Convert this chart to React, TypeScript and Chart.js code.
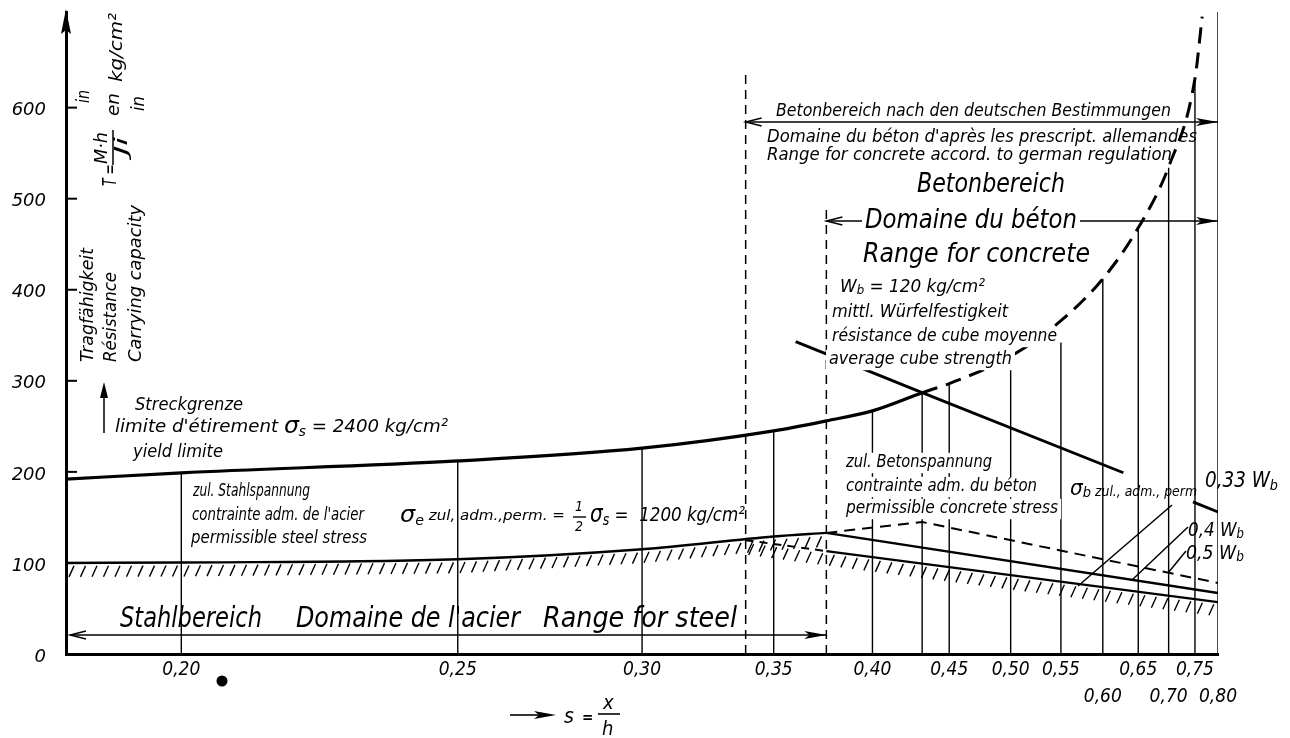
import React, { useEffect, useRef } from 'react';
import { Chart, registerables } from 'chart.js';

Chart.register(...registerables);

const FONT = "'DejaVu Sans Condensed', 'Liberation Sans Narrow', 'DejaVu Sans', sans-serif";
const NUM_FONT = "'DejaVu Sans', sans-serif";

// ---------- axes ----------
const tickS = [0.2, 0.25, 0.3, 0.35, 0.4, 0.45, 0.5, 0.55, 0.6, 0.65, 0.7, 0.75, 0.8];
const tickLabels = ['0,20', '0,25', '0,30', '0,35', '0,40', '0,45', '0,50', '0,55', '0,60', '0,65', '0,70', '0,75', '0,80'];
const lowTickLabels = ['0,60', '0,70', '0,80'];
const yTicks = [0, 100, 200, 300, 400, 500, 600];
const axisS = [0.1846, 0.8];
const yMax = 705;

// ---------- carrying capacity at yield limit (sigma_s = 2400) ----------
const yieldS = [0.1846, 0.2, 0.25, 0.3, 0.35, 0.375, 0.4, 0.431];
const yieldT = [192, 199, 212, 226, 245, 256, 267, 287];
const yieldDashS = [0.431, 0.45, 0.5, 0.55, 0.6, 0.65, 0.7, 0.75, 0.765];
const yieldDashT = [287, 297, 327, 366, 412, 468, 535, 632, 700];

// ---------- concrete capacity (Wb = 120) ----------
const concreteS = [0.36, 0.431, 0.628];
const concreteT = [343, 287, 199];
const concreteEndS = [0.746, 0.8];
const concreteEndT = [167, 156];

// ---------- permissible stresses ----------
const steelS = [0.1846, 0.2, 0.25, 0.3, 0.35, 0.375];
const steelT = [100, 100.5, 104, 115, 129, 133];
const wb05S = [0.375, 0.431, 0.8];
const wb05T = [133, 145, 78];
const wb04S = [0.375, 0.8];
const wb04T = [133, 67];
const wb033S = [0.375, 0.8];
const wb033T = [113, 57];
const wb033DashS = [0.338, 0.375];
const wb033DashT = [125, 113];

// ---------- vertical ordinates ----------
const gridS = [0.2, 0.25, 0.3, 0.35, 0.4, 0.431, 0.45, 0.5, 0.55, 0.6, 0.65, 0.7, 0.75, 0.8];
const gridTopT = [199, 212, 226, 245, 267, 287, 297, 318, 342, 412, 466, 534, 628, 705];
const dashedGridS = [0.338, 0.375];
const dashedGridTopT = [636, 488];

// ---------- ranges (s from .. to) ----------
const germanRangeS = [0.338, 0.8];
const concreteRangeS = [0.375, 0.8];
const steelRangeS = [0.1846, 0.375];

const pts = (S: number[], T: number[]) => S.map((s, i) => ({ x: 1 / s, y: T[i] }));

type Run = { t: string; k?: number; dy?: number };
type Label = { x: number; y: number; size: number; w?: number; runs: Run[] | string; bg?: boolean };

const labels: Label[] = [
  { x: 776, y: 112, size: 17, w: 395, runs: 'Betonbereich nach den deutschen Bestimmungen' },
  { x: 767, y: 138, size: 17, w: 430, runs: "Domaine du béton d'après les prescript. allemandes" },
  { x: 767, y: 156, size: 17, w: 405, runs: 'Range for concrete accord. to german regulation' },
  { x: 917, y: 185, size: 26, w: 148, runs: 'Betonbereich' },
  { x: 865, y: 221, size: 26, w: 212, runs: 'Domaine du béton', bg: true },
  { x: 863, y: 255, size: 26, w: 227, runs: 'Range for concrete' },
  { x: 840, y: 287, size: 18, w: 145, runs: [{ t: 'W' }, { t: 'b', k: 0.7, dy: 4 }, { t: ' = 120 kg/cm²' }] },
  { x: 832, y: 313, size: 17, w: 176, runs: 'mittl. Würfelfestigkeit', bg: true },
  { x: 832, y: 337, size: 17, w: 225, runs: 'résistance de cube moyenne', bg: true },
  { x: 829, y: 360, size: 17, w: 183, runs: 'average cube strength', bg: true },
  { x: 846, y: 463, size: 17, w: 146, runs: 'zul. Betonspannung', bg: true },
  { x: 846, y: 487, size: 17, w: 191, runs: 'contrainte adm. du béton', bg: true },
  { x: 846, y: 509, size: 17, w: 212, runs: 'permissible concrete stress', bg: true },
  { x: 1070, y: 489, size: 22, w: 127, runs: [{ t: 'σ' }, { t: 'b', k: 0.65, dy: 4 }, { t: ' zul., adm., perm', k: 0.62, dy: 3 }] },
  { x: 1205, y: 482, size: 21, w: 73, runs: [{ t: '0,33 W' }, { t: 'b', k: 0.7, dy: 4 }] },
  { x: 1188, y: 531, size: 19, w: 56, runs: [{ t: '0,4 W' }, { t: 'b', k: 0.7, dy: 4 }] },
  { x: 1186, y: 554, size: 19, w: 58, runs: [{ t: '0,5 W' }, { t: 'b', k: 0.7, dy: 4 }] },
  { x: 135, y: 405, size: 18, w: 108, runs: 'Streckgrenze' },
  { x: 115, y: 427, size: 18, w: 333, runs: [{ t: "limite d'étirement " }, { t: 'σ', k: 1.3 }, { t: 's', k: 0.75, dy: 5 }, { t: ' = 2400 kg/cm²' }] },
  { x: 133, y: 452, size: 18, w: 90, runs: 'yield limite' },
  { x: 193, y: 492, size: 17, w: 117, runs: 'zul. Stahlspannung' },
  { x: 192, y: 516, size: 17, w: 172, runs: "contrainte adm. de l'acier" },
  { x: 191, y: 539, size: 17, w: 176, runs: 'permissible steel stress' },
  { x: 400, y: 516, size: 17, w: 165, runs: [{ t: 'σ', k: 1.35 }, { t: 'e', k: 0.8, dy: 5 }, { t: ' zul, adm.,perm. =', k: 0.85 }] },
  { x: 590, y: 516, size: 20, w: 155, runs: [{ t: 'σ', k: 1.2 }, { t: 's', k: 0.75, dy: 5 }, { t: ' =  1200 kg/cm²' }] },
  { x: 120, y: 620, size: 28, w: 142, runs: 'Stahlbereich' },
  { x: 296, y: 620, size: 28, w: 224, runs: "Domaine de l'acier" },
  { x: 543, y: 620, size: 28, w: 194, runs: 'Range for steel' },
];

type RLabel = { cx: number; yb: number; size: number; len: number; text: string };
const rotLabels: RLabel[] = [
  { cx: 89, yb: 362, size: 17, len: 114, text: 'Tragfähigkeit' },
  { cx: 112, yb: 362, size: 17, len: 90, text: 'Résistance' },
  { cx: 137, yb: 362, size: 17, len: 157, text: 'Carrying capacity' },
  { cx: 111, yb: 186, size: 19, len: 22, text: 'T =' },
  { cx: 103, yb: 164, size: 17, len: 32, text: 'M·h' },
  { cx: 123, yb: 155, size: 17, len: 18, text: 'Ji' },
  { cx: 85, yb: 103, size: 17, len: 13, text: 'in' },
  { cx: 114, yb: 116, size: 18, len: 23, text: 'en' },
  { cx: 117, yb: 82, size: 18, len: 69, text: 'kg/cm²' },
  { cx: 140, yb: 111, size: 17, len: 15, text: 'in' },
];

function drawLabelText(ctx: CanvasRenderingContext2D, L: Label, pass: 'bg' | 'fg') {
  const runs: Run[] = typeof L.runs === 'string' ? [{ t: L.runs }] : L.runs;
  ctx.save();
  ctx.textBaseline = 'middle';
  ctx.textAlign = 'left';
  let total = 0;
  const widths = runs.map((r) => {
    ctx.font = `italic ${L.size * (r.k ?? 1)}px ${FONT}`;
    const w = ctx.measureText(r.t).width;
    total += w;
    return w;
  });
  const k = L.w ? L.w / total : 1;
  if (pass === 'bg') {
    if (L.bg) {
      ctx.fillStyle = '#fff';
      ctx.fillRect(L.x - 3, L.y - L.size * 0.6, total * k + 6, L.size * 1.2);
    }
    ctx.restore();
    return;
  }
  ctx.fillStyle = '#000';
  ctx.translate(L.x, L.y);
  ctx.scale(k, 1);
  let cx = 0;
  runs.forEach((r, i) => {
    ctx.font = `italic ${L.size * (r.k ?? 1)}px ${FONT}`;
    ctx.fillText(r.t, cx, r.dy ?? 0);
    cx += widths[i];
  });
  ctx.restore();
}

function drawRot(ctx: CanvasRenderingContext2D, R: RLabel) {
  ctx.save();
  ctx.font = `italic ${R.size}px ${FONT}`;
  ctx.textBaseline = 'middle';
  ctx.textAlign = 'left';
  ctx.fillStyle = '#000';
  const w = ctx.measureText(R.text).width;
  ctx.translate(R.cx, R.yb);
  ctx.rotate(-Math.PI / 2);
  ctx.scale(R.len / w, 1);
  ctx.fillText(R.text, 0, 0);
  ctx.restore();
}

function line(ctx: CanvasRenderingContext2D, x1: number, y1: number, x2: number, y2: number, w = 1.4, dash: number[] = []) {
  ctx.save();
  ctx.strokeStyle = '#000';
  ctx.lineWidth = w;
  ctx.setLineDash(dash);
  ctx.beginPath();
  ctx.moveTo(x1, y1);
  ctx.lineTo(x2, y2);
  ctx.stroke();
  ctx.restore();
}

function headLeftOpen(ctx: CanvasRenderingContext2D, x: number, y: number) {
  ctx.save();
  ctx.strokeStyle = '#000';
  ctx.lineWidth = 1.4;
  ctx.beginPath();
  ctx.moveTo(x + 16, y - 4);
  ctx.lineTo(x, y);
  ctx.lineTo(x + 16, y + 4);
  ctx.stroke();
  ctx.restore();
}

function headRightFilled(ctx: CanvasRenderingContext2D, x: number, y: number) {
  ctx.save();
  ctx.fillStyle = '#000';
  ctx.beginPath();
  ctx.moveTo(x, y);
  ctx.lineTo(x - 22, y - 4);
  ctx.lineTo(x - 17, y);
  ctx.lineTo(x - 22, y + 4);
  ctx.closePath();
  ctx.fill();
  ctx.restore();
}

const annotations = {
  id: 'annotations',
  afterDatasetsDraw(chart: any) {
    const ctx: CanvasRenderingContext2D = chart.ctx;
    const xs = chart.scales.x;
    const ys = chart.scales.y;
    const px = (s: number) => xs.getPixelForValue(1 / s);
    const py = (T: number) => ys.getPixelForValue(T);
    const area = chart.chartArea;

    // hatching below marked lines
    chart.data.datasets.forEach((ds: any, i: number) => {
      if (!ds.hatch) return;
      const meta = chart.getDatasetMeta(i);
      const p = meta.data.map((e: any) => ({ x: e.x, y: e.y }));
      ctx.save();
      ctx.strokeStyle = '#000';
      ctx.lineWidth = 1.4;
      ctx.beginPath();
      for (let x = p[0].x + 6; x < p[p.length - 1].x - 2; x += 11.5) {
        let j = 0;
        while (j < p.length - 2 && p[j + 1].x < x) j++;
        const t = (x - p[j].x) / (p[j + 1].x - p[j].x);
        const y = p[j].y + t * (p[j + 1].y - p[j].y);
        ctx.moveTo(x + 2, y + 3);
        ctx.lineTo(x - 3, y + 14);
      }
      ctx.stroke();
      ctx.restore();
    });

    // y axis arrow and inner ticks
    ctx.save();
    ctx.fillStyle = '#000';
    ctx.beginPath();
    ctx.moveTo(area.left, area.top - 3);
    ctx.lineTo(area.left - 5, area.top + 22);
    ctx.lineTo(area.left, area.top + 18);
    ctx.lineTo(area.left + 5, area.top + 22);
    ctx.closePath();
    ctx.fill();
    ctx.restore();
    yTicks.slice(1).forEach((v) => line(ctx, area.left, py(v), area.left + 11, py(v), 2));

    // dashed vertical ordinates
    dashedGridS.forEach((s, i) => line(ctx, px(s), py(0), px(s), py(dashedGridTopT[i]), 1.5, [9, 6]));

    // range arrows
    const gy = 122;
    line(ctx, px(germanRangeS[0]), gy, px(germanRangeS[1]), gy, 1.3);
    headLeftOpen(ctx, px(germanRangeS[0]), gy);
    headRightFilled(ctx, px(germanRangeS[1]), gy);
    const cy = 221;
    line(ctx, px(concreteRangeS[0]), cy, px(concreteRangeS[1]), cy, 1.3);
    headLeftOpen(ctx, px(concreteRangeS[0]), cy);
    headRightFilled(ctx, px(concreteRangeS[1]), cy);
    const sy = 635;
    line(ctx, px(steelRangeS[0]) + 4, sy, px(steelRangeS[1]), sy, 1.3);
    headLeftOpen(ctx, px(steelRangeS[0]) + 4, sy);
    headRightFilled(ctx, px(steelRangeS[1]), sy);

    // leaders
    line(ctx, 1172, 505, 1078, 586, 1.5);
    line(ctx, 1188, 527, 1132, 580, 1.5);
    line(ctx, 1186, 551, 1168, 573, 1.5);

    // small arrow at Streckgrenze
    line(ctx, 104, 433, 104, 392, 1.5);
    ctx.save();
    ctx.fillStyle = '#000';
    ctx.beginPath();
    ctx.moveTo(104, 382);
    ctx.lineTo(100, 398);
    ctx.lineTo(108, 398);
    ctx.closePath();
    ctx.fill();
    ctx.restore();

    // texts
    labels.forEach((L) => drawLabelText(ctx, L, 'bg'));
    labels.forEach((L) => drawLabelText(ctx, L, 'fg'));
    rotLabels.forEach((R) => drawRot(ctx, R));
    // fraction bar of T = M·h / Ji
    line(ctx, 113, 130, 113, 165, 1.5);

    // 1/2 fraction
    ctx.save();
    ctx.fillStyle = '#000';
    ctx.font = `italic 14px ${FONT}`;
    ctx.textAlign = 'center';
    ctx.textBaseline = 'middle';
    ctx.fillText('1', 579, 507);
    ctx.fillText('2', 579, 527);
    ctx.restore();
    line(ctx, 573, 517, 586, 517, 1.4);

    // x axis title  ->  s = x / h
    line(ctx, 510, 715, 540, 715, 1.6);
    headRightFilled(ctx, 556, 715);
    ctx.save();
    ctx.fillStyle = '#000';
    ctx.textBaseline = 'middle';
    ctx.textAlign = 'left';
    ctx.font = `italic 21px ${FONT}`;
    ctx.fillText('s', 564, 718);
    ctx.font = `bold 15px ${FONT}`;
    ctx.fillText('=', 582, 718);
    ctx.font = `italic 20px ${FONT}`;
    ctx.fillText('x', 603, 704);
    ctx.fillText('h', 602, 730);
    ctx.restore();
    line(ctx, 598, 714, 620, 714, 1.6);

    // scan dot
    ctx.save();
    ctx.fillStyle = '#000';
    ctx.beginPath();
    ctx.arc(222, 681, 5.5, 0, Math.PI * 2);
    ctx.fill();
    ctx.restore();
  },
};

export default function App() {
  const ref = useRef<HTMLCanvasElement | null>(null);
  useEffect(() => {
    if (!ref.current) return;
    const base = { borderColor: '#000', pointRadius: 0, fill: false };
    const datasets: any[] = [
      { ...base, data: pts(yieldS, yieldT), borderWidth: 3.2, cubicInterpolationMode: 'monotone' },
      { ...base, data: pts(yieldDashS, yieldDashT), borderWidth: 3, borderDash: [16, 9], cubicInterpolationMode: 'monotone' },
      { ...base, data: pts(concreteS, concreteT), borderWidth: 2.8 },
      { ...base, data: pts(concreteEndS, concreteEndT), borderWidth: 2.8 },
      { ...base, data: pts(steelS, steelT), borderWidth: 2.4, cubicInterpolationMode: 'monotone', hatch: true },
      { ...base, data: pts(wb05S, wb05T), borderWidth: 2, borderDash: [11, 7] },
      { ...base, data: pts(wb04S, wb04T), borderWidth: 2.4 },
      { ...base, data: pts(wb033S, wb033T), borderWidth: 2.4, hatch: true },
      { ...base, data: pts(wb033DashS, wb033DashT), borderWidth: 2, borderDash: [8, 6], hatch: true },
      ...gridS.map((s, i) => ({ ...base, data: [{ x: 1 / s, y: 0 }, { x: 1 / s, y: gridTopT[i] }], borderWidth: 1.4 })),
    ];
    const labelFor = (v: number) => {
      const i = tickS.findIndex((s) => Math.abs(1 / s - v) < 1e-6);
      if (i < 0) return '';
      const l = tickLabels[i];
      return lowTickLabels.includes(l) ? ['', l] : l;
    };
    const chart = new Chart(ref.current, {
      type: 'line',
      data: { datasets },
      options: {
        animation: false,
        responsive: false,
        maintainAspectRatio: false,
        devicePixelRatio: 1,
        layout: { padding: { left: 0, right: 72, top: 12, bottom: 0 } },
        plugins: { legend: { display: false }, tooltip: { enabled: false } },
        scales: {
          x: {
            type: 'linear',
            reverse: true,
            min: 1 / axisS[1],
            max: 1 / axisS[0],
            grid: { display: false, drawTicks: false, tickLength: 0 },
            border: { display: true, width: 3, color: '#000' },
            afterBuildTicks: (sc: any) => {
              sc.ticks = tickS.map((s) => ({ value: 1 / s }));
            },
            afterFit: (sc: any) => {
              sc.height = 84;
              sc.paddingLeft = 0;
              sc.paddingRight = 0;
            },
            ticks: {
              autoSkip: false,
              maxRotation: 0,
              minRotation: 0,
              padding: 3,
              color: '#000',
              font: { family: FONT, size: 19, style: 'italic', lineHeight: 1.4 },
              callback: (v: any) => labelFor(Number(v)),
            },
          },
          y: {
            type: 'linear',
            min: 0,
            max: yMax,
            grid: { display: false, drawTicks: false, tickLength: 0 },
            border: { display: true, width: 3, color: '#000' },
            afterBuildTicks: (sc: any) => {
              sc.ticks = yTicks.map((v) => ({ value: v }));
            },
            afterFit: (sc: any) => {
              sc.width = 66;
              sc.paddingTop = 0;
              sc.paddingBottom = 0;
            },
            ticks: {
              padding: 20,
              labelOffset: 3,
              color: '#000',
              font: { family: NUM_FONT, size: 18, style: 'italic' },
            },
          },
        },
      } as any,
      plugins: [annotations],
    });
    return () => chart.destroy();
  }, []);
  return (
    <div style={{ position: 'fixed', left: 0, top: 0, width: 1290, height: 738, background: '#fff' }}>
      <canvas ref={ref} width={1290} height={738} style={{ width: 1290, height: 738, display: 'block' }} />
    </div>
  );
}
